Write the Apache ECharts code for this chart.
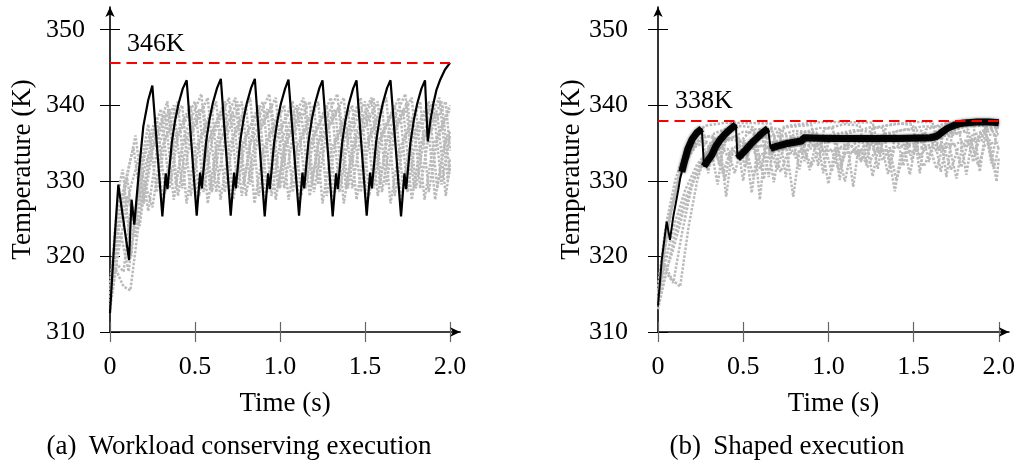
<!DOCTYPE html>
<html><head><meta charset="utf-8">
<script src="https://cdn.jsdelivr.net/npm/echarts@6/dist/echarts.min.js"></script>
<style>html,body{margin:0;padding:0;background:#fff}#c{width:1018px;height:467px}</style>
</head><body><div id="c"></div>
<script>
const xTicks = [0, 0.5, 1, 1.5, 2];
const xTickLabels = ['0', '0.5', '1.0', '1.5', '2.0'];
const yTicks = [310, 320, 330, 340, 350];
const yTickLabels = ['310', '320', '330', '340', '350'];
const limitA = 345.6, limitB = 338.0;
const limitLabelA = '346K', limitLabelB = '338K';
const captionA = '(a) \u2009Workload conserving execution';
const captionB = '(b) \u2009Shaped execution';
const xName = 'Time (s)', yName = 'Temperature (K)';

// ---- panel (a): workload conserving ----
const blackA = [[0,312.5],[0.02,320],[0.049,329.5],[0.112,319.5],[0.127,327.5],[0.143,324.2],[0.167,330.5],[0.196,337.2],[0.225,340.7],[0.249,342.6],
[0.308,325.3],[0.328,331.0],[0.338,328.9],[0.353,332.5],[0.363,335],[0.383,338],[0.403,340.2],[0.428,342.2],[0.451,343.3],
[0.51,325.4],[0.53,331.1],[0.54,329],[0.555,332.6],[0.565,335.1],[0.585,338.1],[0.605,340.3],[0.63,342.3],[0.652,343.5],
[0.71,325.4],[0.73,331.1],[0.74,329],[0.755,332.6],[0.765,335.1],[0.785,338.1],[0.805,340.3],[0.83,342.3],[0.852,343.5],
[0.91,325.3],[0.93,331],[0.94,328.9],[0.955,332.5],[0.965,335],[0.985,338],[1.005,340.2],[1.03,342.2],[1.05,343.4],
[1.112,325.4],[1.132,331.1],[1.142,329],[1.157,332.6],[1.167,335.1],[1.187,338.1],[1.207,340.3],[1.232,342.3],[1.25,343.3],
[1.31,325.3],[1.33,331],[1.34,328.9],[1.355,332.5],[1.365,335],[1.385,338],[1.405,340.2],[1.43,342.2],[1.45,343.3],
[1.51,325.4],[1.53,331.1],[1.54,329],[1.555,332.6],[1.565,335.1],[1.585,338.1],[1.605,340.3],[1.63,342.3],[1.65,343.3],
[1.712,325.3],[1.732,331],[1.742,328.9],[1.757,332.5],[1.767,335],[1.787,338],[1.807,340.2],[1.832,342.2],[1.853,343.3],
[1.869,335.2],[1.885,338],[1.902,340.2],[1.92,342],[1.941,343.3],[1.97,344.7],[2.0,345.6]];

const grayA1 = [[0,314.5],[0.03,324],[0.06,330],[0.075,331.5],[0.125,320],[0.175,331],[0.225,335.5],[0.275,338.5],
[0.325,328.5],[0.375,335.5],[0.475,340],[0.525,328],[0.575,335],[0.675,340.5],[0.725,327.5],[0.775,334.5],[0.875,340],
[0.925,328.5],[0.975,335.5],[1.075,340.5],[1.125,328],[1.175,335],[1.275,340],[1.325,328.5],[1.375,335.5],[1.475,341],
[1.525,328],[1.575,335],[1.675,340],[1.725,329],[1.775,335.5],[1.875,340.5],[1.925,329],[1.975,335.5],[2.0,336.5]];
const grayA2 = [[0,315],[0.04,322],[0.1,330.5],[0.15,322.5],[0.2,333],[0.3,339.5],
[0.35,329],[0.4,336],[0.5,340.5],[0.55,328.5],[0.6,335.5],[0.7,341],[0.75,329],[0.8,336],[0.9,340.5],
[0.95,328],[1.0,335],[1.1,340],[1.15,329],[1.2,336],[1.3,341],[1.35,328.5],[1.4,335.5],[1.5,340.5],
[1.55,329],[1.6,336],[1.7,341],[1.75,328.5],[1.8,335.5],[1.9,340.5],[1.95,329.5],[2.0,336]];
const grayA3 = [[0,313],[0.04,319],[0.08,318],[0.125,327],[0.175,324],[0.225,333],[0.325,339],
[0.375,327.5],[0.425,334.5],[0.525,339.5],[0.575,327],[0.625,334],[0.725,339],[0.775,328],[0.825,335],[0.925,339.5],
[0.975,327.5],[1.025,334.5],[1.125,339],[1.175,328],[1.225,335],[1.325,339.5],[1.375,327],[1.425,334],[1.525,339],
[1.575,328],[1.625,335],[1.725,339.5],[1.775,327.5],[1.825,334.5],[1.925,339],[1.975,328],[2.0,332]];
const grayA4 = [[0,316],[0.05,325],[0.15,336],[0.2,327],[0.25,334],[0.35,339.5],
[0.4,328],[0.45,335],[0.55,340],[0.6,328.5],[0.65,335.5],[0.75,340.5],[0.8,328],[0.85,335],[0.95,340],
[1.0,329],[1.05,336],[1.15,340.5],[1.2,328.5],[1.25,335.5],[1.35,340],[1.4,329],[1.45,336],[1.55,341],
[1.6,328.5],[1.65,335.5],[1.75,340.5],[1.8,329],[1.85,336],[1.95,340.5],[2.0,331]];
const grayA5 = [[0,314],[0.06,322],[0.12,329],[0.175,333.5],[0.225,326],[0.275,334],[0.375,340],
[0.425,329],[0.475,336],[0.575,341],[0.625,328.5],[0.675,335.5],[0.775,340.5],[0.825,329.5],[0.875,336.5],[0.975,341],
[1.025,329],[1.075,336],[1.175,340.5],[1.225,329.5],[1.275,336.5],[1.375,341],[1.425,329],[1.475,336],[1.575,340.5],
[1.625,329.5],[1.675,336.5],[1.775,341],[1.825,329],[1.875,336],[1.975,340.5],[2.0,334]];
const grayA6 = [[0,313.5],[0.03,318.5],[0.08,316],[0.12,315.5],[0.2,330],[0.25,326.5],[0.3,334],[0.4,340.5],
[0.45,327],[0.5,334],[0.6,339.5],[0.65,327.5],[0.7,334.5],[0.8,340],[0.85,327],[0.9,334],[1.0,339.5],
[1.05,327.5],[1.1,334.5],[1.2,340],[1.25,327],[1.3,334],[1.4,339.5],[1.45,327.5],[1.5,334.5],[1.6,340],
[1.65,327],[1.7,334],[1.8,339.5],[1.85,327.5],[1.9,334.5],[2.0,340]];
const grayA7 = [[0,315],[0.05,323.5],[0.1,328],[0.15,324.5],[0.175,331],[0.225,337.5],
[0.275,328.5],[0.325,335.5],[0.425,340],[0.475,328],[0.525,335],[0.625,340.5],[0.675,328.5],[0.725,335.5],[0.825,341],
[0.875,328],[0.925,335],[1.025,340],[1.075,328.5],[1.125,335.5],[1.225,340.5],[1.275,328],[1.325,335],[1.425,340],
[1.475,328.5],[1.525,335.5],[1.625,341],[1.675,328],[1.725,335],[1.825,340.5],[1.875,328.5],[1.925,335.5],[2.0,339.5]];
const grayA8 = [[0,314],[0.04,320.5],[0.0625,323],[0.11,318],[0.16,328],[0.2625,336.5],
[0.3125,327],[0.3625,334],[0.4625,339],[0.5125,327.5],[0.5625,334.5],[0.6625,339.5],[0.7125,327],[0.7625,334],[0.8625,339],
[0.9125,327.5],[0.9625,334.5],[1.0625,339.5],[1.1125,327],[1.1625,334],[1.2625,339],[1.3125,327.5],[1.3625,334.5],[1.4625,339.5],
[1.5125,327],[1.5625,334],[1.6625,339],[1.7125,327.5],[1.7625,334.5],[1.8625,339.5],[1.9125,327.5],[1.9625,334.5],[2.0,336.5]];
const grayA9 = [[0,316.5],[0.05,326],[0.1375,334.5],[0.1875,326.5],[0.2375,333.5],[0.3375,340.5],
[0.3875,329.5],[0.4375,336],[0.5375,341.5],[0.5875,329],[0.6375,336],[0.7375,341],[0.7875,329.5],[0.8375,336.5],[0.9375,341.5],
[0.9875,329],[1.0375,336],[1.1375,341],[1.1875,329.5],[1.2375,336.5],[1.3375,341.5],[1.3875,329],[1.4375,336],[1.5375,341],
[1.5875,329.5],[1.6375,336.5],[1.7375,341.5],[1.7875,329],[1.8375,336],[1.9375,341],[1.9875,330],[2.0,333]];

// ---- panel (b): shaped ----
const blackB = [[0,313.5],[0.022,319.5],[0.051,324.6],[0.07,322.2],[0.09,325.3],[0.119,328.8],[0.13,330.3],[0.149,332.0],[0.175,334.2],[0.2,335.5],[0.23,336.4],[0.257,336.9],
[0.27,331.9],[0.29,332.6],[0.315,333.4],[0.34,334.6],[0.364,335.4],[0.39,336.1],[0.422,336.8],[0.457,337.4],
[0.467,333.0],[0.49,333.5],[0.519,334.2],[0.55,335.0],[0.578,335.6],[0.61,336.3],[0.646,336.9],
[0.661,334.3],[0.7,334.6],[0.75,334.9],[0.8,335.1],[0.848,335.3],
[0.852,335.7],[1.0,335.6],[1.2,335.6],[1.4,335.6],[1.6,335.7],[1.637,335.9],[1.665,336.4],[1.696,336.9],[1.735,337.3],[1.775,337.6],[1.82,337.7],[1.873,337.8],[1.94,337.8],[2.0,337.7]];
const bandB1 = [[0.14,331.2],[0.149,332.0],[0.175,334.2],[0.2,335.5],[0.23,336.4],[0.257,336.9]];
const bandB2 = [[0.27,331.9],[0.29,332.6],[0.315,333.4],[0.34,334.6],[0.364,335.4],[0.39,336.1],[0.422,336.8],[0.457,337.4]];
const bandB3 = [[0.467,333.0],[0.49,333.5],[0.519,334.2],[0.55,335.0],[0.578,335.6],[0.61,336.3],[0.646,336.9]];
const bandB4 = [[0.661,334.3],[0.7,334.6],[0.75,334.9],[0.8,335.1],[0.848,335.3],[0.852,335.7],[1.0,335.6],[1.2,335.6],[1.4,335.6],[1.6,335.7],[1.637,335.9],[1.665,336.4],[1.696,336.9],[1.735,337.3],[1.775,337.6],[1.82,337.7],[1.873,337.8],[1.94,337.8],[2.0,337.7]];

const grayB1 = [[0,314],[0.03,320],[0.07,325.5],[0.12,330],[0.18,334],[0.22,335.8],[0.255,336.6],[0.295,331],[0.33,336.3],[0.45,337.3],[0.558,337.1],[0.598,327.5],[0.633,335.6],[0.75,337.1],[0.9,337.4],[0.94,332],[0.975,336.9],[1.1,337.5],[1.184,337.3],[1.224,332.3],[1.259,337],[1.4,337.6],[1.497,337.4],[1.537,331],[1.572,336.8],[1.7,337.7],[1.849,337.8],[1.889,331.2],[1.924,337.1],[2.0,337.8]];
const grayB2 = [[0,315],[0.04,319],[0.08,317],[0.13,316],[0.18,324],[0.23,330],[0.27,333],[0.31,334.5],[0.35,329.5],[0.385,335],[0.5,336.5],[0.61,336.3],[0.65,330.5],[0.685,335.8],[0.8,336.6],[0.93,336.4],[0.97,331],[1.005,336],[1.15,336.7],[1.25,336.5],[1.29,331.6],[1.325,336.2],[1.45,336.8],[1.55,336.6],[1.59,332.5],[1.625,336.4],[1.75,337.2],[1.917,337.3],[1.957,332.3],[1.992,337],[2.0,337.2]];
const grayB3 = [[0,313.5],[0.05,322.5],[0.1,328.5],[0.16,332.5],[0.22,334.5],[0.28,335.2],[0.353,334.6],[0.393,330.1],[0.428,334.2],[0.5,335],[0.56,334.3],[0.6,331.5],[0.635,334.5],[0.66,334.2],[0.7,331.5],[0.735,334.3],[0.85,334.8],[0.98,334.5],[1.02,331.2],[1.055,334.2],[1.14,334.6],[1.2,332.8],[1.235,334.4],[1.28,334.5],[1.32,332.7],[1.355,334.3],[1.46,334.6],[1.595,334.4],[1.635,331.6],[1.67,334.3],[1.8,335.3],[1.947,335.4],[1.987,329.9],[2.0,333]];
const grayB4 = [[0,316],[0.03,318.5],[0.09,316.5],[0.14,323],[0.2,329.5],[0.26,333],[0.33,335.5],[0.36,335.8],[0.4,327.9],[0.435,334],[0.55,336.8],[0.71,336.9],[0.75,330.5],[0.785,336],[0.95,337],[1.027,336.9],[1.067,330.1],[1.102,336.2],[1.25,337.1],[1.32,337],[1.36,331.9],[1.395,336.5],[1.55,337.2],[1.653,337.2],[1.693,330.5],[1.728,336.6],[1.85,337.6],[2.0,337.6]];
const grayB5 = [[0,314.5],[0.06,324],[0.12,330.5],[0.2,334.2],[0.26,335.5],[0.3,334.5],[0.41,334.2],[0.45,331],[0.485,334],[0.6,334.6],[0.754,334.2],[0.794,327.9],[0.829,333.8],[0.9,334.3],[1.057,334],[1.097,329.9],[1.132,333.8],[1.25,334.2],[1.35,334],[1.39,328.6],[1.425,333.6],[1.55,334.3],[1.712,334.4],[1.752,330.3],[1.787,334.8],[1.9,336],[2.0,336.2]];
const grayB6 = [[0,313],[0.05,318],[0.1,323],[0.15,327],[0.22,331],[0.3,334.5],[0.46,336],[0.5,330],[0.535,335.3],[0.6,335.9],[0.79,335.9],[0.83,331.5],[0.865,335.4],[1.0,336],[1.106,335.9],[1.146,329.2],[1.181,335.2],[1.3,336],[1.4,336.1],[1.44,332],[1.475,335.6],[1.6,336.1],[1.77,336.4],[1.81,330.8],[1.845,336],[1.95,337],[2.0,337.1]];
const grayB7 = [[0,315.5],[0.04,323],[0.09,327.5],[0.14,331.5],[0.2,334.5],[0.27,336],[0.35,335.5],[0.51,335.3],[0.55,328.4],[0.585,334.5],[0.7,335.3],[0.85,335.2],[0.89,331.4],[0.925,334.8],[1.05,335.4],[1.15,335.3],[1.19,332.5],[1.225,334.9],[1.35,335.5],[1.438,335.4],[1.478,330.8],[1.513,334.9],[1.65,335.8],[1.81,336.6],[1.85,332.5],[1.885,336.2],[2.0,336.9]];
const grayB8 = [[0,314],[0.04,317.5],[0.09,321],[0.15,326],[0.21,330],[0.28,333],[0.34,333.8],[0.38,331],[0.42,333.6],[0.52,334],[0.56,330.5],[0.6,333.5],[0.68,333.9],[0.72,331.2],[0.76,333.6],[0.86,334],[0.9,332],[0.94,333.8],[1.02,334],[1.06,331.5],[1.1,333.7],[1.19,334],[1.23,331.8],[1.27,333.8],[1.36,334.1],[1.4,330],[1.44,333.6],[1.52,334],[1.56,331.9],[1.6,333.9],[1.68,334.3],[1.72,331.5],[1.76,334.2],[1.84,335],[1.88,332],[1.92,334.8],[2.0,335.2]];
const grayB9 = [[0,316],[0.05,324.5],[0.1,330],[0.16,334],[0.22,336.3],[0.28,337.3],[0.4,337.7],[0.66,337.6],[0.7,334],[0.74,337.2],[0.9,337.7],[1.0,337.8],[1.26,337.7],[1.3,333.5],[1.34,337.3],[1.5,337.8],[1.61,337.8],[1.65,334],[1.69,337.5],[1.8,338.0],[2.0,338.0]];
const grayB10 = [[0,313.8],[0.04,321.5],[0.08,326.5],[0.13,330.8],[0.19,333.8],[0.25,335.6],[0.32,336],[0.36,332],[0.4,335.5],[0.47,335.9],[0.51,331.8],[0.55,335.4],[0.64,335.9],[0.68,329.8],[0.72,335.2],[0.82,335.8],[0.86,332.6],[0.9,335.5],[1.04,335.9],[1.08,332.2],[1.12,335.4],[1.22,335.8],[1.26,330.6],[1.3,335.3],[1.45,335.9],[1.49,332.8],[1.53,335.6],[1.62,335.9],[1.66,331.2],[1.7,335.8],[1.82,336.8],[1.86,333.5],[1.9,336.6],[1.96,336.9],[2.0,334.2]];
const grayB11 = [[0,315.2],[0.05,320],[0.1,324.5],[0.16,328.8],[0.23,332.2],[0.3,334],[0.37,334.8],[0.42,332.8],[0.46,334.5],[0.58,334.9],[0.62,330.2],[0.66,334.4],[0.77,334.8],[0.81,333],[0.85,334.6],[0.96,334.9],[1.0,329.6],[1.04,334.3],[1.13,334.8],[1.17,333.2],[1.21,334.7],[1.31,334.9],[1.35,330.9],[1.39,334.5],[1.5,334.9],[1.54,333.3],[1.58,334.7],[1.74,334.9],[1.78,331.8],[1.82,335.2],[1.93,336.1],[1.97,331.6],[2.0,334.5]];

const grayAll = {
  A: [grayA1, grayA2, grayA3, grayA4, grayA5, grayA6, grayA7, grayA8, grayA9],
  B: [grayB1, grayB2, grayB3, grayB4, grayB5, grayB6, grayB7, grayB8, grayB9, grayB10, grayB11]
};

const FONT = '"Liberation Serif", "DejaVu Serif", serif';
const X_MAX = 2.06, Y_MIN = 310, Y_MAX = 353;

function xAxesFor(g) {
  return [
    { gridIndex: g, type: 'value', min: 0, max: X_MAX, interval: 0.5,
      axisLine: { show: true, onZero: false, symbol: ['none', 'arrow'], symbolSize: [7, 10], lineStyle: { color: '#000', width: 1.6 } },
      axisTick: { show: true, length: 10, customValues: xTicks, lineStyle: { color: '#666', width: 1.2 } },
      axisLabel: { customValues: xTicks, margin: 22, fontFamily: FONT, fontSize: 26, color: '#000',
        formatter: v => xTickLabels[xTicks.indexOf(v)] ?? '' },
      splitLine: { show: false },
      name: xName, nameLocation: 'middle', nameGap: 58, nameTextStyle: { fontFamily: FONT, fontSize: 27, color: '#000' } },
    { gridIndex: g, type: 'value', position: 'bottom', offset: 0, min: 0, max: X_MAX, interval: 0.5,
      axisLine: { show: false, onZero: false },
      axisTick: { show: true, inside: true, length: 10, customValues: xTicks, lineStyle: { color: '#666', width: 1.2 } },
      axisLabel: { show: false }, splitLine: { show: false } }
  ];
}
function yAxesFor(g, margin, gap) {
  return [
    { gridIndex: g, type: 'value', min: Y_MIN, max: Y_MAX, interval: 10,
      axisLine: { show: true, onZero: false, symbol: ['none', 'arrow'], symbolSize: [7, 10], lineStyle: { color: '#000', width: 1.6 } },
      axisTick: { show: true, length: 10, customValues: yTicks, lineStyle: { color: '#000', width: 1 } },
      axisLabel: { customValues: yTicks, margin: margin, fontFamily: FONT, fontSize: 26, color: '#000',
        formatter: v => yTickLabels[yTicks.indexOf(v)] ?? '' },
      splitLine: { show: false },
      name: yName, nameLocation: 'middle', nameGap: gap, nameTextStyle: { fontFamily: FONT, fontSize: 27, color: '#000' } },
    { gridIndex: g, type: 'value', position: 'left', offset: 0, min: Y_MIN, max: Y_MAX, interval: 10,
      axisLine: { show: false, onZero: false },
      axisTick: { show: true, inside: true, length: 10, customValues: yTicks, lineStyle: { color: '#000', width: 1 } },
      axisLabel: { show: false }, splitLine: { show: false } }
  ];
}

function grayLine(data, ax) {
  return { type: 'line', xAxisIndex: ax, yAxisIndex: ax, data: data, showSymbol: false, silent: true,
    lineStyle: { color: '#bababa', width: 2.5, type: [2.5, 1.5] }, z: 1 };
}
function limitMark(val, text) {
  return { silent: true, symbol: ['none', 'none'],
    lineStyle: { color: '#ff0000', width: 2, type: [10.5, 6] },
    label: { show: true, position: 'insideStartTop', formatter: text, distance: [17, 6], fontFamily: FONT, fontSize: 26, color: '#000' },
    data: [[{ coord: [0, val] }, { coord: [2, val] }]] };
}

const series = [];
grayAll.A.forEach(d => series.push(grayLine(d, 0)));
grayAll.B.forEach(d => series.push(grayLine(d, 2)));
series.push({ type: 'line', xAxisIndex: 0, yAxisIndex: 0, data: blackA, showSymbol: false, z: 3,
  lineStyle: { color: '#000', width: 2.2 }, markLine: limitMark(limitA, limitLabelA) });
[bandB1, bandB2, bandB3, bandB4].forEach(d => series.push({ type: 'line', xAxisIndex: 2, yAxisIndex: 2, data: d, showSymbol: false, z: 3,
  lineStyle: { color: '#050505', width: 7, shadowColor: 'rgba(0,0,0,0.6)', shadowBlur: 3 } }));
series.push({ type: 'line', xAxisIndex: 2, yAxisIndex: 2, data: blackB, showSymbol: false, z: 3,
  lineStyle: { color: '#000', width: 2 }, markLine: limitMark(limitB, limitLabelB) });

const chart = echarts.init(document.getElementById('c'), null, { renderer: 'canvas' });
chart.setOption({
  animation: false,
  backgroundColor: '#fff',
  grid: [
    { left: 110, top: 7, width: 350.2, height: 325 },
    { left: 658, top: 7, width: 351.2, height: 325 }
  ],
  xAxis: [...xAxesFor(0), ...xAxesFor(1)],
  yAxis: [...yAxesFor(0, 25, 74), ...yAxesFor(1, 30, 73)],
  graphic: [
    { type: 'text', x: 239, y: 447, style: { text: captionA, font: '27px ' + FONT, align: 'center', verticalAlign: 'middle', fill: '#000' } },
    { type: 'text', x: 787, y: 447, style: { text: captionB, font: '27px ' + FONT, align: 'center', verticalAlign: 'middle', fill: '#000' } }
  ],
  series: series
});
</script></body></html>
